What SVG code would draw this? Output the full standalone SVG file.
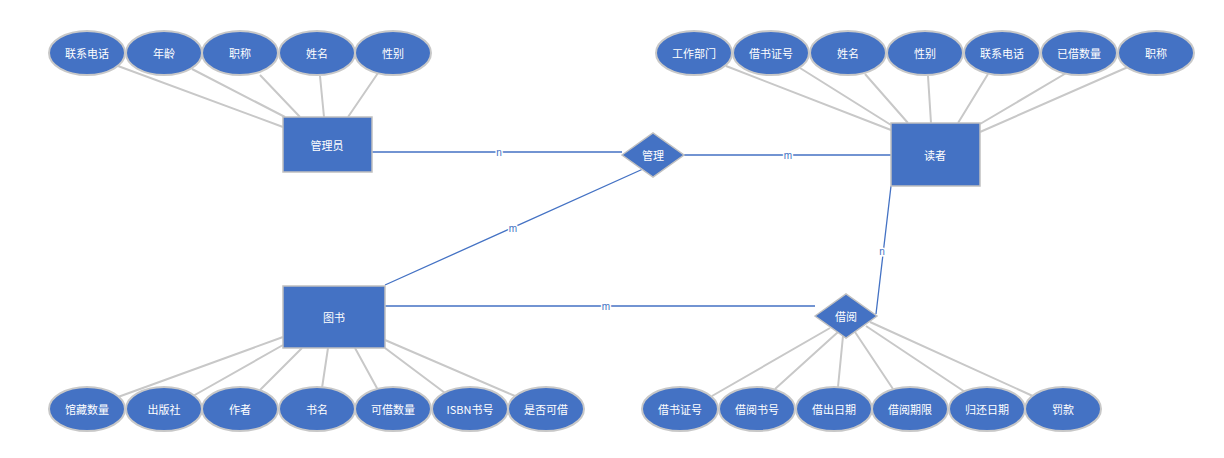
<svg xmlns="http://www.w3.org/2000/svg" width="1224" height="458" viewBox="0 0 1224 458">
<style>
.a{fill:#4472C4;stroke:#C8C8C8;stroke-width:2}
.e{fill:#4472C4;stroke:#C0C0C0;stroke-width:1.5}
.t{fill:#fff;font-family:"Noto Sans CJK SC","Liberation Sans",sans-serif;font-size:11px;text-anchor:middle;dominant-baseline:central}
.g{stroke:#C8C8C8;stroke-width:2;fill:none}
.b{stroke:#4472C4;stroke-width:1.3;fill:none}
.l{fill:#4472C4;font-family:"Liberation Sans",sans-serif;font-size:10px;text-anchor:middle;dominant-baseline:central;stroke:#fff;stroke-width:3;paint-order:stroke}
</style>
<g id="connectors">
<path class="g" d="M118,66L283,127M192,69L285,117M260,75L300,117M320,76L324,117M378,73L348,117"/>
<path class="g" d="M726,66L891,130M800,68L891,125M865,74L908,123M928,76L931,123M988,74L958,123M1068,72L980,124M1128,67L980,132"/>
<path class="g" d="M118,397L283,337M193,396L283,345M260,390L302,348M322,388L328,348M378,390L355,348M445,393L385,348M515,396L385,340"/>
<path class="g" d="M712,396L830,328M775,389L838,332M838,387L843,336M893,389L855,332M965,392L866,326M1035,397L870,322"/>
<path class="b" d="M372,152L622,152M684,155L891,155M385,285L643,169M385,306L815,306M891,186L876,314"/>
<text class="l" x="499" y="152">n</text>
<text class="l" x="788" y="155">m</text>
<text class="l" x="513" y="228">m</text>
<text class="l" x="606" y="306">m</text>
<text class="l" x="882" y="251">n</text>
</g>
<g id="admin"><rect class="e" x="283" y="117" width="89" height="55"/><text class="t" x="327" y="145">管理员</text></g>
<g id="reader"><rect class="e" x="891" y="123" width="89" height="63"/><text class="t" x="935" y="155">读者</text></g>
<g id="book"><rect class="e" x="283" y="286" width="102" height="62"/><text class="t" x="334" y="317">图书</text></g>
<g id="manage"><polygon class="e" points="622,155 653,133 684,155 653,177"/><text class="t" x="653" y="155">管理</text></g>
<g id="borrow"><polygon class="e" points="815,316 846,294 877,316 846,338"/><text class="t" x="846" y="316">借阅</text></g>
<g id="admin-attrs">
<g id="a1"><ellipse class="a" cx="87" cy="53" rx="38" ry="22"/><text class="t" x="87" y="53">联系电话</text></g>
<g id="a2"><ellipse class="a" cx="164" cy="53" rx="38" ry="22"/><text class="t" x="164" y="53">年龄</text></g>
<g id="a3"><ellipse class="a" cx="240" cy="53" rx="38" ry="22"/><text class="t" x="240" y="53">职称</text></g>
<g id="a4"><ellipse class="a" cx="317" cy="53" rx="38" ry="22"/><text class="t" x="317" y="53">姓名</text></g>
<g id="a5"><ellipse class="a" cx="393" cy="53" rx="38" ry="22"/><text class="t" x="393" y="53">性别</text></g>
</g>
<g id="reader-attrs">
<g id="r1"><ellipse class="a" cx="694" cy="53" rx="38" ry="22"/><text class="t" x="694" y="53">工作部门</text></g>
<g id="r2"><ellipse class="a" cx="771" cy="53" rx="38" ry="22"/><text class="t" x="771" y="53">借书证号</text></g>
<g id="r3"><ellipse class="a" cx="848" cy="53" rx="38" ry="22"/><text class="t" x="848" y="53">姓名</text></g>
<g id="r4"><ellipse class="a" cx="925" cy="53" rx="38" ry="22"/><text class="t" x="925" y="53">性别</text></g>
<g id="r5"><ellipse class="a" cx="1002" cy="53" rx="38" ry="22"/><text class="t" x="1002" y="53">联系电话</text></g>
<g id="r6"><ellipse class="a" cx="1079" cy="53" rx="38" ry="22"/><text class="t" x="1079" y="53">已借数量</text></g>
<g id="r7"><ellipse class="a" cx="1156" cy="53" rx="38" ry="22"/><text class="t" x="1156" y="53">职称</text></g>
</g>
<g id="book-attrs">
<g id="b1"><ellipse class="a" cx="87" cy="409" rx="38" ry="22"/><text class="t" x="87" y="409">馆藏数量</text></g>
<g id="b2"><ellipse class="a" cx="164" cy="409" rx="38" ry="22"/><text class="t" x="164" y="409">出版社</text></g>
<g id="b3"><ellipse class="a" cx="240" cy="409" rx="38" ry="22"/><text class="t" x="240" y="409">作者</text></g>
<g id="b4"><ellipse class="a" cx="317" cy="409" rx="38" ry="22"/><text class="t" x="317" y="409">书名</text></g>
<g id="b5"><ellipse class="a" cx="393" cy="409" rx="38" ry="22"/><text class="t" x="393" y="409">可借数量</text></g>
<g id="b6"><ellipse class="a" cx="470" cy="409" rx="38" ry="22"/><text class="t" x="470" y="409">ISBN书号</text></g>
<g id="b7"><ellipse class="a" cx="546" cy="409" rx="38" ry="22"/><text class="t" x="546" y="409">是否可借</text></g>
</g>
<g id="borrow-attrs">
<g id="c1"><ellipse class="a" cx="680" cy="409" rx="38" ry="22"/><text class="t" x="680" y="409">借书证号</text></g>
<g id="c2"><ellipse class="a" cx="757" cy="409" rx="38" ry="22"/><text class="t" x="757" y="409">借阅书号</text></g>
<g id="c3"><ellipse class="a" cx="834" cy="409" rx="38" ry="22"/><text class="t" x="834" y="409">借出日期</text></g>
<g id="c4"><ellipse class="a" cx="910" cy="409" rx="38" ry="22"/><text class="t" x="910" y="409">借阅期限</text></g>
<g id="c5"><ellipse class="a" cx="987" cy="409" rx="38" ry="22"/><text class="t" x="987" y="409">归还日期</text></g>
<g id="c6"><ellipse class="a" cx="1063" cy="409" rx="38" ry="22"/><text class="t" x="1063" y="409">罚款</text></g>
</g>
</svg>
